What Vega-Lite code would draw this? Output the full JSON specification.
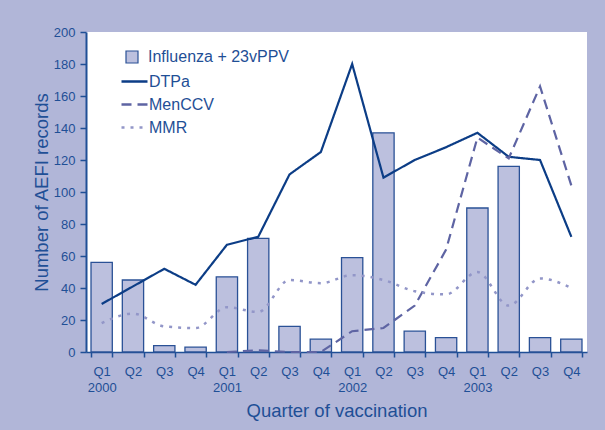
{
  "$schema": "https://vega.github.io/schema/vega-lite/v6.json",
  "width": 501,
  "height": 320,
  "autosize": {"type": "none"},
  "padding": {"left": 86, "top": 32, "right": 18, "bottom": 78},
  "background": "#b1b6d8",
  "config": {
    "view": {"stroke": null, "fill": "white"},
    "font": "Liberation Sans"
  },
  "data": {
    "values": [
      {"quarter": "Q1 2000", "series": "Influenza + 23vPPV", "value": 56},
      {"quarter": "Q2 2000", "series": "Influenza + 23vPPV", "value": 45},
      {"quarter": "Q3 2000", "series": "Influenza + 23vPPV", "value": 4},
      {"quarter": "Q4 2000", "series": "Influenza + 23vPPV", "value": 3},
      {"quarter": "Q1 2001", "series": "Influenza + 23vPPV", "value": 47},
      {"quarter": "Q2 2001", "series": "Influenza + 23vPPV", "value": 71},
      {"quarter": "Q3 2001", "series": "Influenza + 23vPPV", "value": 16},
      {"quarter": "Q4 2001", "series": "Influenza + 23vPPV", "value": 8},
      {"quarter": "Q1 2002", "series": "Influenza + 23vPPV", "value": 59},
      {"quarter": "Q2 2002", "series": "Influenza + 23vPPV", "value": 137},
      {"quarter": "Q3 2002", "series": "Influenza + 23vPPV", "value": 13},
      {"quarter": "Q4 2002", "series": "Influenza + 23vPPV", "value": 9},
      {"quarter": "Q1 2003", "series": "Influenza + 23vPPV", "value": 90},
      {"quarter": "Q2 2003", "series": "Influenza + 23vPPV", "value": 116},
      {"quarter": "Q3 2003", "series": "Influenza + 23vPPV", "value": 9},
      {"quarter": "Q4 2003", "series": "Influenza + 23vPPV", "value": 8},
      {"quarter": "Q1 2000", "series": "DTPa", "value": 30},
      {"quarter": "Q2 2000", "series": "DTPa", "value": 41},
      {"quarter": "Q3 2000", "series": "DTPa", "value": 52},
      {"quarter": "Q4 2000", "series": "DTPa", "value": 42},
      {"quarter": "Q1 2001", "series": "DTPa", "value": 67},
      {"quarter": "Q2 2001", "series": "DTPa", "value": 72},
      {"quarter": "Q3 2001", "series": "DTPa", "value": 111},
      {"quarter": "Q4 2001", "series": "DTPa", "value": 125},
      {"quarter": "Q1 2002", "series": "DTPa", "value": 180},
      {"quarter": "Q2 2002", "series": "DTPa", "value": 109},
      {"quarter": "Q3 2002", "series": "DTPa", "value": 120},
      {"quarter": "Q4 2002", "series": "DTPa", "value": 128},
      {"quarter": "Q1 2003", "series": "DTPa", "value": 137},
      {"quarter": "Q2 2003", "series": "DTPa", "value": 122},
      {"quarter": "Q3 2003", "series": "DTPa", "value": 120},
      {"quarter": "Q4 2003", "series": "DTPa", "value": 72},
      {"quarter": "Q1 2001", "series": "MenCCV", "value": 0},
      {"quarter": "Q2 2001", "series": "MenCCV", "value": 1},
      {"quarter": "Q3 2001", "series": "MenCCV", "value": 0},
      {"quarter": "Q4 2001", "series": "MenCCV", "value": 0},
      {"quarter": "Q1 2002", "series": "MenCCV", "value": 13},
      {"quarter": "Q2 2002", "series": "MenCCV", "value": 15},
      {"quarter": "Q3 2002", "series": "MenCCV", "value": 29},
      {"quarter": "Q4 2002", "series": "MenCCV", "value": 64},
      {"quarter": "Q1 2003", "series": "MenCCV", "value": 134},
      {"quarter": "Q2 2003", "series": "MenCCV", "value": 121},
      {"quarter": "Q3 2003", "series": "MenCCV", "value": 166},
      {"quarter": "Q4 2003", "series": "MenCCV", "value": 104},
      {"quarter": "Q1 2000", "series": "MMR", "value": 18},
      {"quarter": "Q2 2000", "series": "MMR", "value": 24},
      {"quarter": "Q3 2000", "series": "MMR", "value": 16},
      {"quarter": "Q4 2000", "series": "MMR", "value": 15},
      {"quarter": "Q1 2001", "series": "MMR", "value": 28},
      {"quarter": "Q2 2001", "series": "MMR", "value": 25},
      {"quarter": "Q3 2001", "series": "MMR", "value": 45},
      {"quarter": "Q4 2001", "series": "MMR", "value": 43},
      {"quarter": "Q1 2002", "series": "MMR", "value": 48},
      {"quarter": "Q2 2002", "series": "MMR", "value": 45},
      {"quarter": "Q3 2002", "series": "MMR", "value": 38},
      {"quarter": "Q4 2002", "series": "MMR", "value": 36},
      {"quarter": "Q1 2003", "series": "MMR", "value": 50},
      {"quarter": "Q2 2003", "series": "MMR", "value": 29},
      {"quarter": "Q3 2003", "series": "MMR", "value": 46},
      {"quarter": "Q4 2003", "series": "MMR", "value": 40}
    ]
  },
  "encoding": {
    "x": {
      "field": "quarter",
      "type": "ordinal",
      "scale": {
        "domain": ["Q1 2000","Q2 2000","Q3 2000","Q4 2000","Q1 2001","Q2 2001","Q3 2001","Q4 2001","Q1 2002","Q2 2002","Q3 2002","Q4 2002","Q1 2003","Q2 2003","Q3 2003","Q4 2003"],
        "paddingInner": 0.32,
        "paddingOuter": 0.16
      },
      "axis": {
        "title": "Quarter of vaccination",
        "titleFontSize": 18.5,
        "titleFontWeight": "normal",
        "titleColor": "#1f4f96",
        "titlePadding": 7,
        "labelExpr": "indexof(datum.label, 'Q1') == 0 ? [substring(datum.label, 0, 2), substring(datum.label, 3)] : substring(datum.label, 0, 2)",
        "labelAngle": 0,
        "labelFontSize": 13,
        "labelColor": "#1f4f96",
        "labelLineHeight": 16,
        "labelPadding": 8,
        "tickBand": "extent",
        "tickSize": 5,
        "tickWidth": 1.5,
        "tickColor": "#1f4f96",
        "domainColor": "#1f4f96",
        "domainWidth": 1.5
      }
    },
    "y": {
      "field": "value",
      "type": "quantitative",
      "scale": {"domain": [0, 200], "nice": false},
      "axis": {
        "title": "Number of AEFI records",
        "titleFontSize": 18.5,
        "titleFontWeight": "normal",
        "titleColor": "#1f4f96",
        "titlePadding": 2,
        "values": [0, 20, 40, 60, 80, 100, 120, 140, 160, 180, 200],
        "grid": false,
        "labelFontSize": 13,
        "labelColor": "#1f4f96",
        "labelPadding": 5,
        "tickSize": 6,
        "tickWidth": 1.5,
        "tickColor": "#1f4f96",
        "domainColor": "#1f4f96",
        "domainWidth": 2
      }
    }
  },
  "layer": [
    {
      "transform": [{"filter": "datum.series == 'Influenza + 23vPPV'"}],
      "mark": {"type": "bar", "stroke": "#2a5196", "strokeWidth": 1.3},
      "encoding": {
        "fill": {
          "field": "series",
          "type": "nominal",
          "scale": {"domain": ["Influenza + 23vPPV"], "range": ["#bcc0de"]},
          "legend": {
            "title": null,
            "orient": "none",
            "legendX": 38,
            "legendY": 17,
            "padding": 0,
            "symbolType": "square",
            "symbolSize": 144,
            "symbolStrokeColor": "#2a5196",
            "symbolStrokeWidth": 1.2,
            "labelFontSize": 16,
            "labelColor": "#1f4f96",
            "labelOffset": 8
          }
        }
      }
    },
    {
      "transform": [{"filter": "datum.series == 'DTPa' || datum.series == 'MenCCV'"}],
      "mark": {"type": "line", "strokeWidth": 2.2},
      "encoding": {
        "stroke": {
          "field": "series",
          "type": "nominal",
          "scale": {"domain": ["DTPa", "MenCCV", "MMR"], "range": ["#0c3d86", "#5e64a3", "#9296c8"]},
          "legend": {
            "title": null,
            "orient": "none",
            "legendX": 34,
            "legendY": 35,
            "padding": 0,
            "symbolType": "stroke",
            "symbolSize": 676,
            "symbolStrokeWidth": 2.5,
            "labelFontSize": 16,
            "labelColor": "#1f4f96",
            "labelOffset": 0,
            "rowPadding": -2
          }
        },
        "strokeDash": {
          "field": "series",
          "type": "nominal",
          "scale": {"domain": ["DTPa", "MenCCV", "MMR"], "range": [[1, 0], [10, 6], [3, 6]]}
        }
      }
    },
    {
      "transform": [{"filter": "datum.series == 'MMR'"}],
      "mark": {"type": "line", "strokeWidth": 2.5, "interpolate": "monotone"},
      "encoding": {
        "stroke": {"field": "series", "type": "nominal"},
        "strokeDash": {"field": "series", "type": "nominal"}
      }
    }
  ]
}
